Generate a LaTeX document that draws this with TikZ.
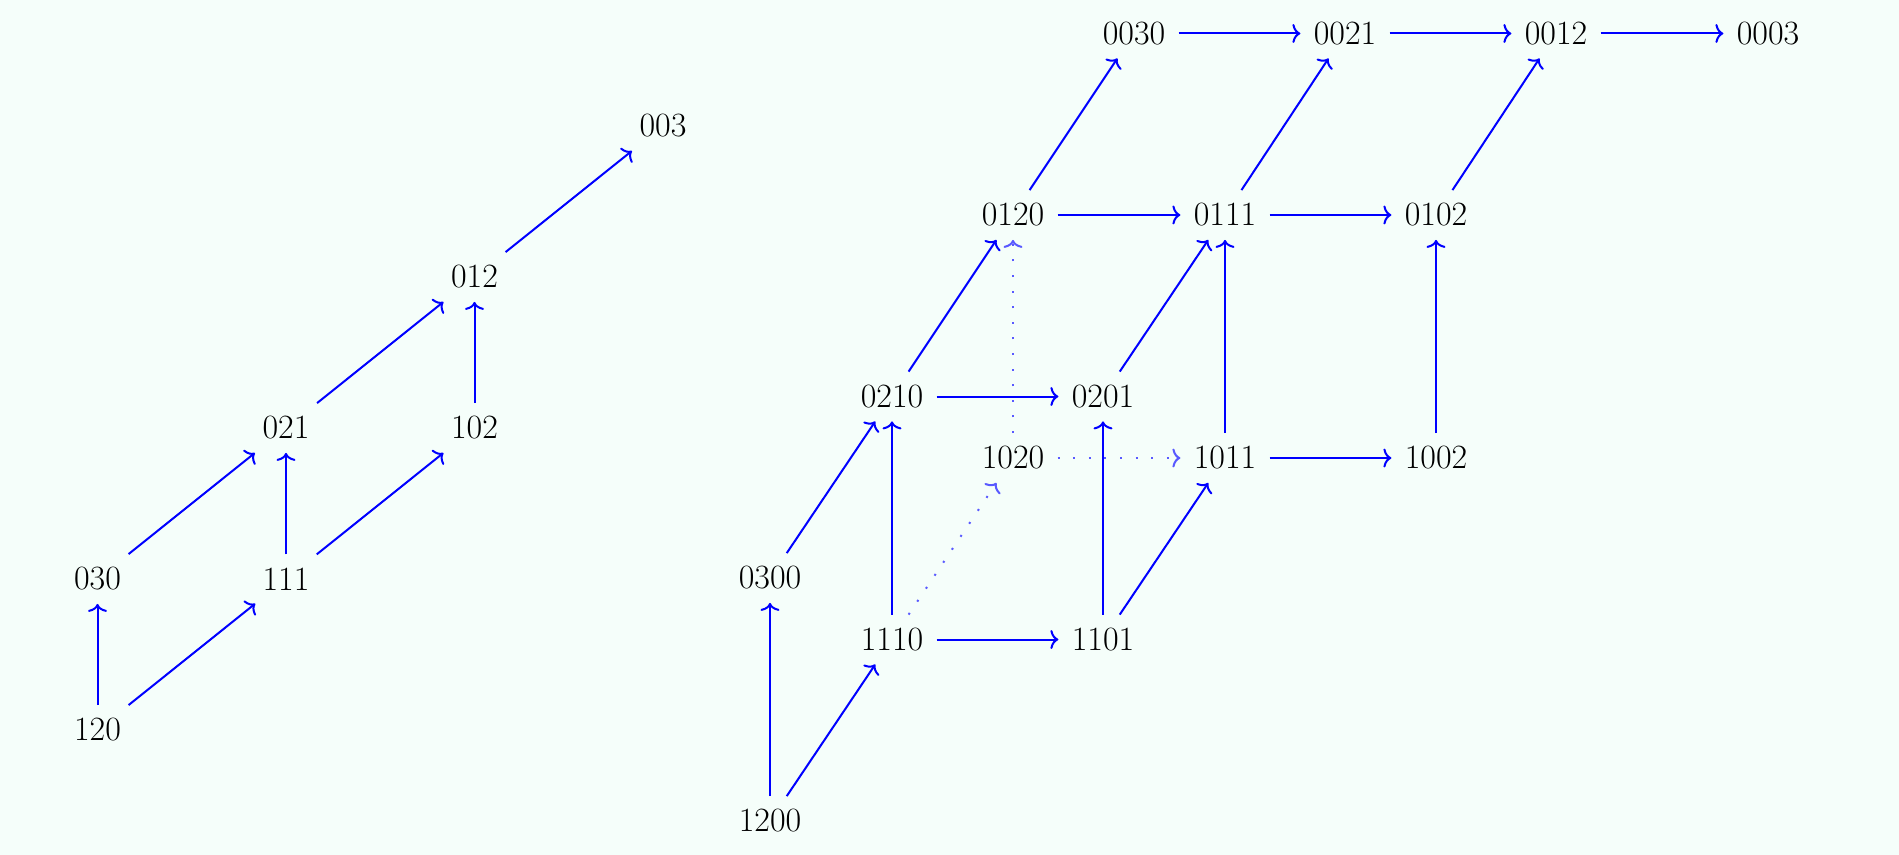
\documentclass[tikz,border=0pt]{standalone}
\usetikzlibrary{arrows.meta}
\definecolor{mintbg}{RGB}{245,254,250}
\begin{document}
\begin{tikzpicture}[x=0.5pt,y=-0.5pt,
  lbl/.style={inner sep=6.5pt, font=\fontsize{17}{20}\selectfont},
  arr/.style={-{To[length=4pt,width=9.5pt]}, blue, line width=1pt},
  dotarr/.style={-{To[length=4pt,width=9.5pt]}, blue!65, line width=1pt, dash pattern=on 1pt off 6.8pt}]
\fill[mintbg] (0,0) rectangle (1899,855);
% left diagram
\node[lbl] (L120) at (97.5,730) {120};
\node[lbl] (L030) at (97.5,579) {030};
\node[lbl] (L111) at (286,579) {111};
\node[lbl] (L021) at (286,428) {021};
\node[lbl] (L102) at (474.5,428) {102};
\node[lbl] (L012) at (474.5,277) {012};
\node[lbl] (L003) at (663,126) {003};
\draw[arr] (L120) -- (L030);
\draw[arr] (L120) -- (L111);
\draw[arr] (L030) -- (L021);
\draw[arr] (L111) -- (L021);
\draw[arr] (L111) -- (L102);
\draw[arr] (L021) -- (L012);
\draw[arr] (L102) -- (L012);
\draw[arr] (L012) -- (L003);
% right diagram
\node[lbl] (R1200) at (770,821) {1200};
\node[lbl] (R0300) at (770,578) {0300};
\node[lbl] (R1110) at (892,639.5) {1110};
\node[lbl] (R0210) at (892,396.5) {0210};
\node[lbl] (R1101) at (1103,639.5) {1101};
\node[lbl] (R0201) at (1103,396.5) {0201};
\node[lbl] (R1020) at (1013,458) {1020};
\node[lbl] (R0120) at (1013,215) {0120};
\node[lbl] (R1011) at (1225,458) {1011};
\node[lbl] (R0111) at (1225,215) {0111};
\node[lbl] (R1002) at (1436,458) {1002};
\node[lbl] (R0102) at (1436,215) {0102};
\node[lbl] (R0030) at (1134,33.5) {0030};
\node[lbl] (R0021) at (1345,33.5) {0021};
\node[lbl] (R0012) at (1556,33.5) {0012};
\node[lbl] (R0003) at (1768,33.5) {0003};
\draw[dotarr] (R1110) -- (R1020);
\draw[dotarr] (R1020) -- (R0120);
\draw[dotarr] (R1020) -- (R1011);
\draw[arr] (R1200) -- (R0300);
\draw[arr] (R1200) -- (R1110);
\draw[arr] (R0300) -- (R0210);
\draw[arr] (R1110) -- (R0210);
\draw[arr] (R1110) -- (R1101);
\draw[arr] (R0210) -- (R0201);
\draw[arr] (R0210) -- (R0120);
\draw[arr] (R1101) -- (R0201);
\draw[arr] (R1101) -- (R1011);
\draw[arr] (R0201) -- (R0111);
\draw[arr] (R1011) -- (R0111);
\draw[arr] (R1011) -- (R1002);
\draw[arr] (R1002) -- (R0102);
\draw[arr] (R0120) -- (R0111);
\draw[arr] (R0111) -- (R0102);
\draw[arr] (R0120) -- (R0030);
\draw[arr] (R0111) -- (R0021);
\draw[arr] (R0102) -- (R0012);
\draw[arr] (R0030) -- (R0021);
\draw[arr] (R0021) -- (R0012);
\draw[arr] (R0012) -- (R0003);
\end{tikzpicture}
\end{document}
